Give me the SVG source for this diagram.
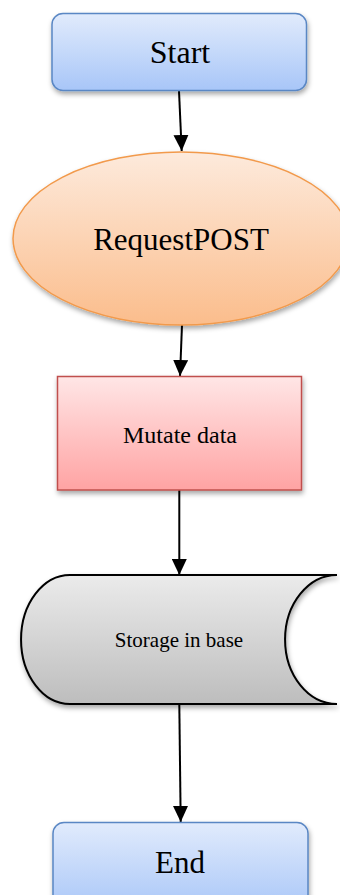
<svg xmlns="http://www.w3.org/2000/svg" width="340" height="895" viewBox="0 0 340 895">
<style>
  .lbl { font-family: "Liberation Serif", "Times New Roman", serif; fill: #000; text-anchor: middle; }
  .conn { stroke: #000; stroke-width: 2; fill: none; marker-end: url(#arrow); }
</style>
<defs>
  <linearGradient id="gBlue" x1="0" y1="0" x2="0" y2="1">
    <stop offset="0" stop-color="#e1ebfc"/>
    <stop offset="1" stop-color="#a8c6f8"/>
  </linearGradient>
  <linearGradient id="gOrange" x1="0" y1="0" x2="0" y2="1">
    <stop offset="0" stop-color="#fdeadc"/>
    <stop offset="1" stop-color="#fbbd8c"/>
  </linearGradient>
  <linearGradient id="gRed" x1="0" y1="0" x2="0" y2="1">
    <stop offset="0" stop-color="#ffe6e6"/>
    <stop offset="1" stop-color="#ffa3a3"/>
  </linearGradient>
  <linearGradient id="gGray" x1="0" y1="0" x2="0" y2="1">
    <stop offset="0" stop-color="#ebebeb"/>
    <stop offset="1" stop-color="#bdbdbd"/>
  </linearGradient>
  <filter id="shadow" x="-10%" y="-10%" width="120%" height="130%">
    <feDropShadow dx="1" dy="3" stdDeviation="2.5" flood-color="#000" flood-opacity="0.35"/>
  </filter>
  <marker id="arrow" viewBox="0 0 16 15" refX="16" refY="7.5" markerWidth="16" markerHeight="15" markerUnits="userSpaceOnUse" orient="auto">
    <path d="M0,0 L16,7.5 L0,15 Z" fill="#000"/>
  </marker>
</defs>

<g id="connectors">
  <line class="conn" x1="179" y1="91" x2="181.7" y2="151"/>
  <line class="conn" x1="182" y1="325" x2="180" y2="376"/>
  <line class="conn" x1="179.3" y1="490" x2="179.3" y2="575"/>
  <line class="conn" x1="179.3" y1="704" x2="180.7" y2="822"/>
</g>

<g id="start">
  <rect x="52" y="13.5" width="254.5" height="77" rx="11" fill="url(#gBlue)" stroke="#5a87c4" stroke-width="1.5" filter="url(#shadow)"/>
  <text class="lbl" x="180" y="63" font-size="32">Start</text>
</g>

<g id="request">
  <ellipse cx="181" cy="238.5" rx="168" ry="86.5" fill="url(#gOrange)" stroke="#f29a4c" stroke-width="1.5" filter="url(#shadow)"/>
  <text class="lbl" x="181" y="250" font-size="31">RequestPOST</text>
</g>

<g id="mutate">
  <rect x="57.5" y="376.5" width="244" height="113.5" fill="url(#gRed)" stroke="#c0504d" stroke-width="1.5" filter="url(#shadow)"/>
  <text class="lbl" x="180" y="443" font-size="24">Mutate data</text>
</g>

<g id="storage">
  <path d="M70,575 L337,575 A52,64.5 0 0 0 337,704 L70,704 A49,64.5 0 0 1 70,575 Z" fill="url(#gGray)" stroke="#000" stroke-width="2" filter="url(#shadow)"/>
  <text class="lbl" x="179" y="647" font-size="21">Storage in base</text>
</g>

<g id="end">
  <rect x="53" y="822.5" width="255" height="90" rx="11" fill="url(#gBlue)" stroke="#5a87c4" stroke-width="1.5" filter="url(#shadow)"/>
  <text class="lbl" x="180" y="873" font-size="31">End</text>
</g>
</svg>
